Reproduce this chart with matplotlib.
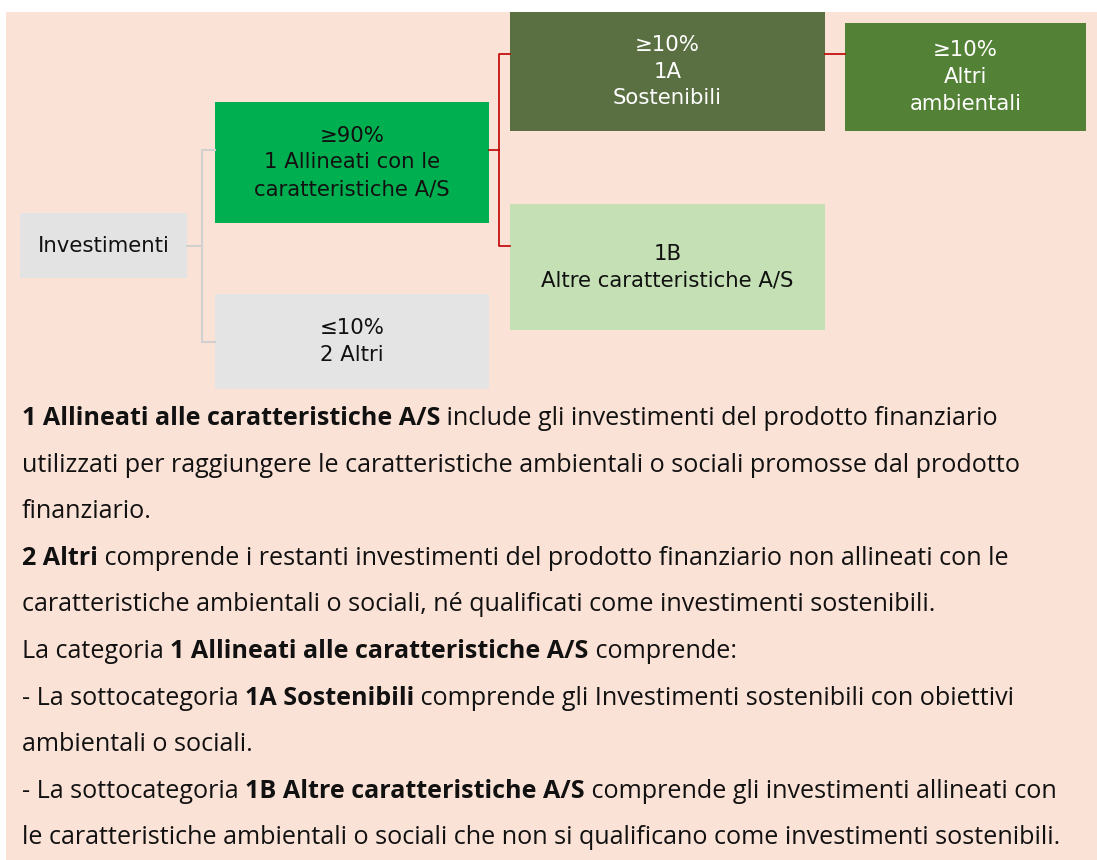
import matplotlib
matplotlib.use("Agg")
import matplotlib.pyplot as plt
from matplotlib.patches import Rectangle

# ================= DATA =================
box_labels = [
    "Investimenti",
    "≥90%\n1 Allineati con le\ncaratteristiche A/S",
    "≤10%\n2 Altri",
    "≥10%\n1A\nSostenibili",
    "1B\nAltre caratteristiche A/S",
    "≥10%\nAltri\nambientali",
]

# paragraph lines: list of (text, bold) pieces
text_lines = [
    [("1 Allineati alle caratteristiche A/S", True),
     (" include gli investimenti del prodotto finanziario", False)],
    [("utilizzati per raggiungere le caratteristiche ambientali o sociali promosse dal prodotto", False)],
    [("finanziario.", False)],
    [("2 Altri", True),
     (" comprende i restanti investimenti del prodotto finanziario non allineati con le", False)],
    [("caratteristiche ambientali o sociali, né qualificati come investimenti sostenibili.", False)],
    [("La categoria ", False), ("1 Allineati alle caratteristiche A/S", True), (" comprende:", False)],
    [("- La sottocategoria ", False), ("1A Sostenibili", True),
     (" comprende gli Investimenti sostenibili con obiettivi", False)],
    [("ambientali o sociali.", False)],
    [("- La sottocategoria ", False), ("1B Altre caratteristiche A/S", True),
     (" comprende gli investimenti allineati con", False)],
    [("le caratteristiche ambientali o sociali che non si qualificano come investimenti sostenibili.", False)],
]

# ================= LAYOUT (pixels) =================
# x0, y0, x1, y1, face, text colour
boxes = [
    (20, 213, 187, 278, "#E3E3E3", "#111111"),
    (215, 102, 489, 223, "#00B050", "#111111"),
    (215, 294, 489, 389, "#E4E4E4", "#111111"),
    (510, 12, 825, 131, "#5A7042", "#FFFFFF"),
    (510, 204, 825, 330, "#C5E0B4", "#111111"),
    (845, 23, 1086, 131, "#538135", "#FFFFFF"),
]
W, H = 1097, 860
PEACH = "#FBE2D6"
PARA_FONT = "Open Sans"
LINE1_WIDTH = 976  # px, width of the first paragraph line in the reference

fig = plt.figure(figsize=(W / 100, H / 100), dpi=100)
ax = fig.add_axes([0, 0, 1, 1])
ax.set_xlim(0, W)
ax.set_ylim(H, 0)
ax.axis("off")

ax.add_patch(Rectangle((6, 12), W - 6, H - 12, facecolor=PEACH, edgecolor="none"))

# ================= CONNECTORS =================
gray = "#D0D0D0"
ax.plot([187, 202], [246, 246], color=gray, lw=1.5)
ax.plot([215, 202, 202, 215], [150, 150, 342, 342], color=gray, lw=1.5)

red = "#C00000"
ax.plot([489, 499], [150, 150], color=red, lw=1.2)
ax.plot([510, 499, 499, 510], [54, 54, 246, 246], color=red, lw=1.2)
ax.plot([825, 845], [54, 54], color=red, lw=1.2)

# ================= BOXES =================
for (x0, y0, x1, y1, fc, tc), label in zip(boxes, box_labels):
    ax.add_patch(Rectangle((x0, y0), x1 - x0, y1 - y0, facecolor=fc, edgecolor="none"))
    ax.text((x0 + x1) / 2, (y0 + y1) / 2, label, ha="center", va="center",
            color=tc, fontsize=15.3, family="DejaVu Sans", linespacing=1.42)

# ================= PARAGRAPH =================
renderer = fig.canvas.get_renderer()


def line_width(line, size):
    w = 0
    for txt, bold in line:
        t = ax.text(0, 0, txt, fontsize=size, family=PARA_FONT,
                    fontweight="bold" if bold else "normal")
        w += t.get_window_extent(renderer).width
        t.remove()
    return w


para_size = 16 * LINE1_WIDTH / line_width(text_lines[0], 16)

y = 425
for line in text_lines:
    x = 22
    for txt, bold in line:
        t = ax.text(x, y, txt, ha="left", va="baseline", fontsize=para_size,
                    family=PARA_FONT, fontweight="bold" if bold else "normal",
                    color="#111111")
        x += t.get_window_extent(renderer).width  # 1 axis unit == 1 pixel
    y += 46.6

fig.savefig("out.png", dpi=100, facecolor="white")
